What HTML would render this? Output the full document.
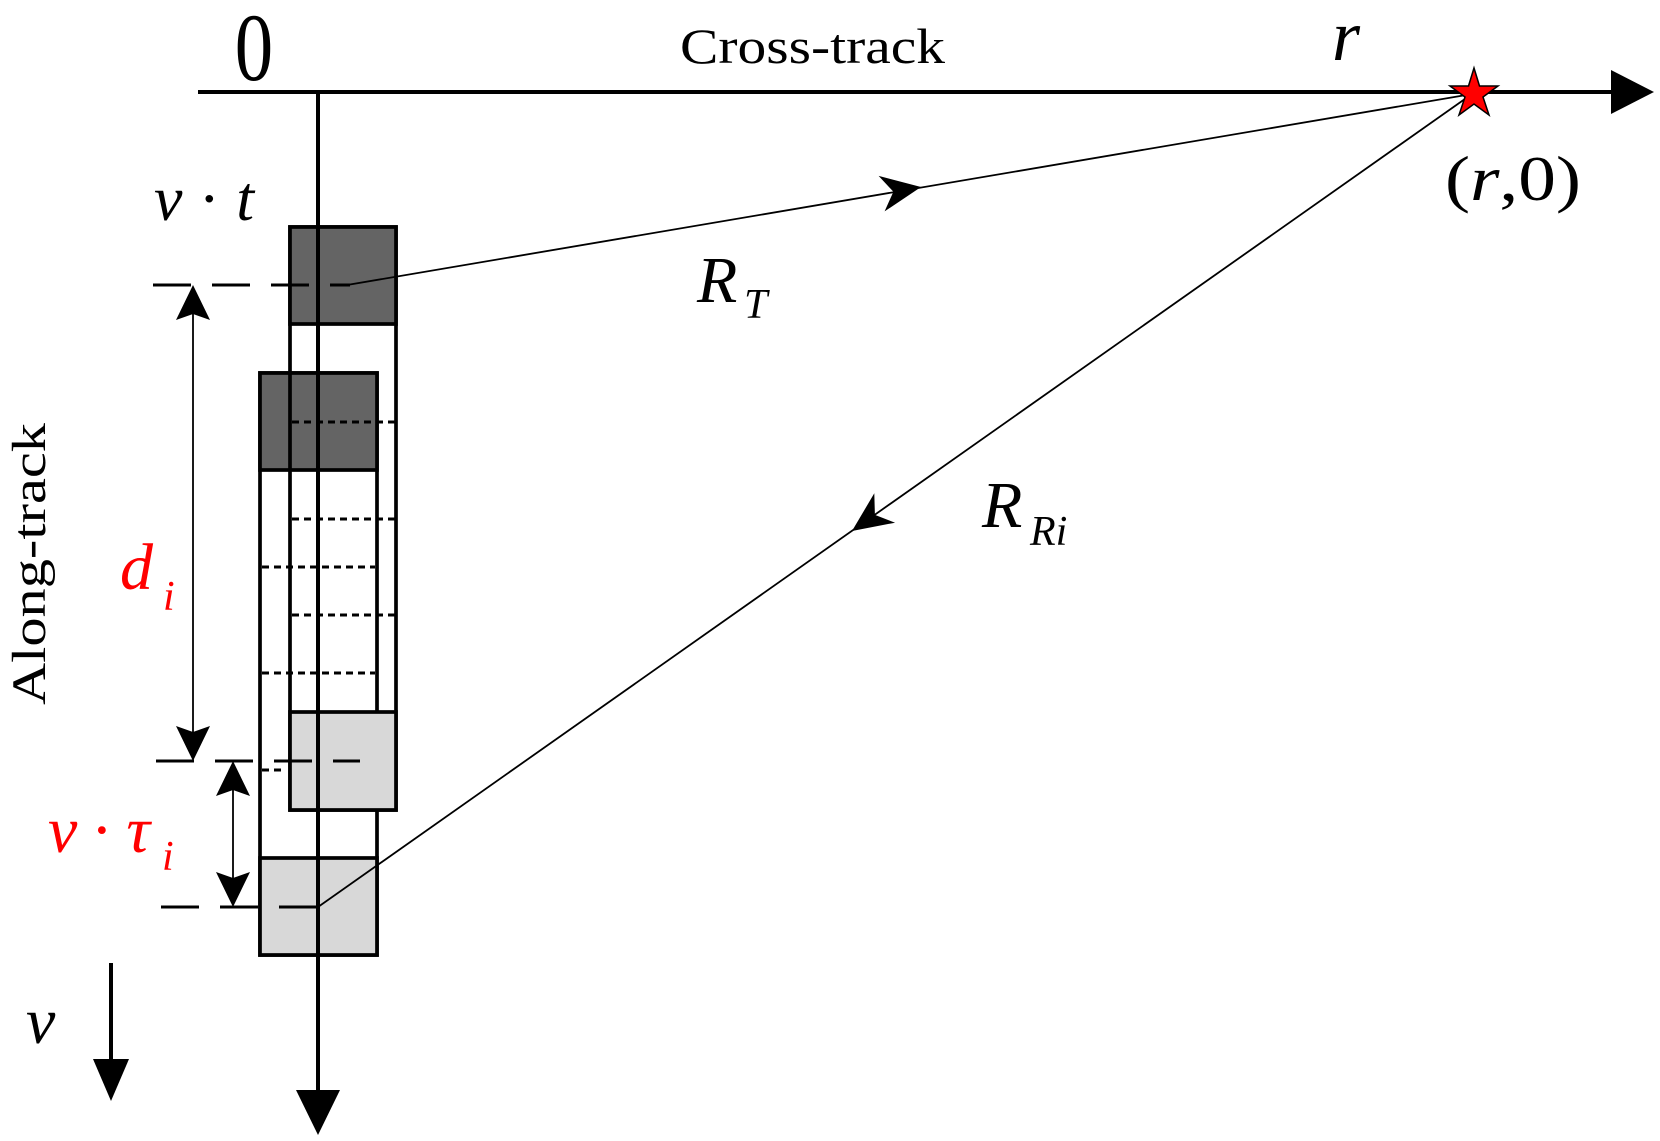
<!DOCTYPE html>
<html><head><meta charset="utf-8"><style>html,body{margin:0;padding:0;background:#fff}svg{display:block}</style></head>
<body>
<svg width="1660" height="1141" viewBox="0 0 1660 1141" xmlns="http://www.w3.org/2000/svg" font-family="'Liberation Serif', serif">
<rect x="290" y="227" width="106" height="583" fill="none" stroke="#000" stroke-width="3.7"/>
<rect x="260" y="373" width="117" height="582" fill="none" stroke="#000" stroke-width="3.7"/>
<rect x="290" y="227" width="106" height="97" fill="#646464" stroke="#000" stroke-width="3.7"/>
<rect x="260" y="373" width="117" height="97" fill="#646464" stroke="#000" stroke-width="3.7"/>
<line x1="290" y1="373" x2="290" y2="470" stroke="#000" stroke-width="3.7"/>
<rect x="290" y="712" width="106" height="98" fill="#d8d8d8" stroke="#000" stroke-width="3.7"/>
<rect x="260" y="858" width="117" height="97" fill="#d8d8d8" stroke="#000" stroke-width="3.7"/>
<g stroke="#000" stroke-width="3" stroke-dasharray="7,5">
<line x1="292" y1="422" x2="396" y2="422"/>
<line x1="292" y1="519" x2="396" y2="519"/>
<line x1="262" y1="567" x2="375" y2="567"/>
<line x1="292" y1="615" x2="396" y2="615"/>
<line x1="262" y1="673" x2="375" y2="673"/>
<line x1="262" y1="770" x2="285" y2="770"/>
</g>
<g stroke="#000" stroke-width="3" stroke-dasharray="38,21">
<line x1="153" y1="285" x2="350" y2="285"/>
<line x1="156" y1="761" x2="360" y2="761"/>
<line x1="161" y1="907" x2="320" y2="907"/>
</g>
<line x1="198" y1="92" x2="1615" y2="92" stroke="#000" stroke-width="4"/>
<polygon points="1654,92 1611,70 1611,114" fill="#000"/>
<line x1="318" y1="92" x2="318" y2="1095" stroke="#000" stroke-width="4"/>
<polygon points="318,1135 296,1090 340,1090" fill="#000"/>
<line x1="347" y1="285" x2="1472" y2="94" stroke="#000" stroke-width="1.8"/>
<polygon points="921,187 884.6,211.4 893.4,191.7 878.6,175.9" fill="#000"/>
<line x1="1472" y1="94" x2="318" y2="907" stroke="#000" stroke-width="1.8"/>
<polygon points="852,531 895.1,522.7 874.9,514.9 874.3,493.3" fill="#000"/>
<line x1="193" y1="295" x2="193" y2="751" stroke="#000" stroke-width="1.8"/>
<polygon points="193,285 176,320 193,314 210,320" fill="#000"/>
<polygon points="193,761 176,726 193,732 210,726" fill="#000"/>
<line x1="233" y1="771" x2="233" y2="897" stroke="#000" stroke-width="1.8"/>
<polygon points="233,761 216,796 233,790 250,796" fill="#000"/>
<polygon points="233,907 216,872 233,878 250,872" fill="#000"/>
<line x1="111" y1="963" x2="111" y2="1065" stroke="#000" stroke-width="4"/>
<polygon points="111,1101 93,1059 129,1059" fill="#000"/>
<polygon points="1474,68 1479.5,86 1498,86 1483,97 1489,115 1474,104 1459,115 1465,97 1450,86 1468.5,86" fill="#ff0000" stroke="#000" stroke-width="1.5"/>
<text transform="translate(254,80) scale(0.8,1)" font-size="96" text-anchor="middle">0</text>
<text x="680" y="63" font-size="50" textLength="265" lengthAdjust="spacingAndGlyphs">Cross-track</text>
<text x="1332" y="60" font-size="72" font-style="italic">r</text>
<text x="1445" y="200" font-size="64" textLength="136" lengthAdjust="spacingAndGlyphs">(<tspan font-style="italic">r</tspan>,0)</text>
<text x="154" y="220" font-size="64" font-style="italic" textLength="100" lengthAdjust="spacing">v<tspan font-style="normal">·</tspan>t</text>
<text x="697" y="302" font-size="66" font-style="italic">R</text>
<text x="744" y="318" font-size="42" font-style="italic">T</text>
<text x="982" y="527" font-size="66" font-style="italic">R</text>
<text x="1030" y="545" font-size="42" font-style="italic">Ri</text>
<text x="120" y="589" font-size="66" font-style="italic" fill="#ff0000">d</text>
<text x="163" y="610" font-size="42" font-style="italic" fill="#ff0000">i</text>
<text x="48" y="852" font-size="66" font-style="italic" fill="#ff0000" textLength="102" lengthAdjust="spacing">v<tspan font-style="normal">·</tspan>τ</text>
<text x="162" y="870" font-size="42" font-style="italic" fill="#ff0000">i</text>
<text x="26" y="1043" font-size="66" font-style="italic">v</text>
<text transform="translate(45,564) rotate(-90)" font-size="48" text-anchor="middle" textLength="282" lengthAdjust="spacingAndGlyphs">Along-track</text>
</svg>
</body></html>
